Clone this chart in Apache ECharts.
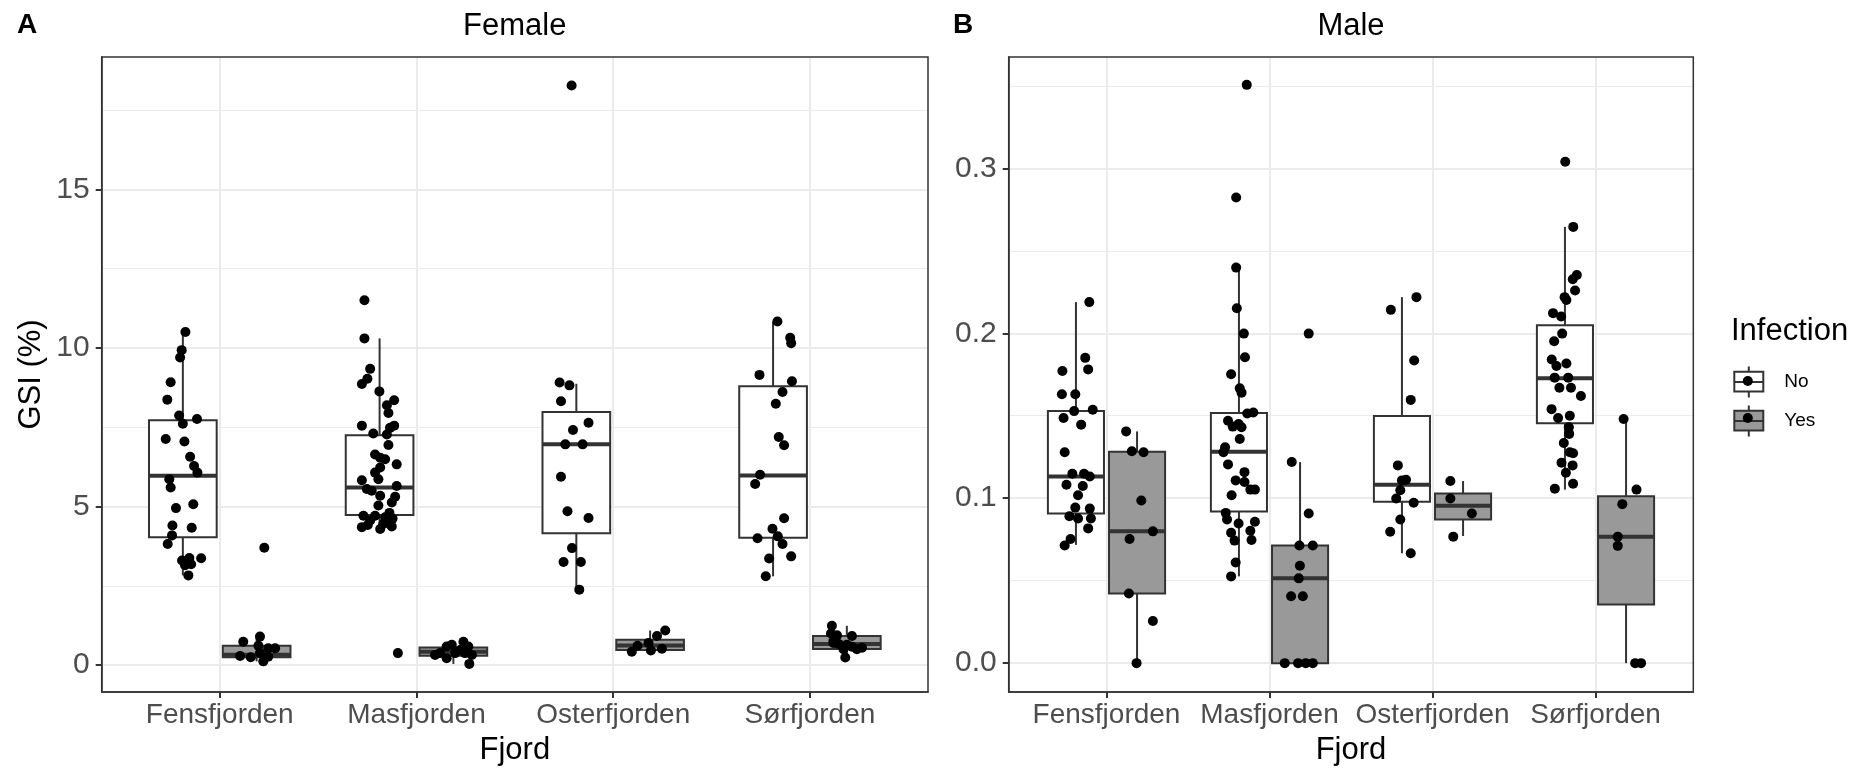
<!DOCTYPE html>
<html>
<head>
<meta charset="utf-8">
<script src="https://cdn.jsdelivr.net/npm/echarts@6/dist/echarts.min.js"></script>
<style>
html,body{margin:0;padding:0;background:#ffffff;}
#chart{width:1856px;height:771px;}
</style>
</head>
<body>
<div id="chart"></div>
<script>
// ---------------- data ----------------
const fjords = ['Fensfjorden', 'Masfjorden', 'Osterfjorden', 'Sørfjorden'];
const infections = ['No', 'Yes'];

const femaleTicks = [0, 5, 10, 15];
const femaleMinorTicks = [2.5, 7.5, 12.5, 17.5];
const maleTicks = [0, 0.1, 0.2, 0.3];
const maleMinorTicks = [0.05, 0.15, 0.25, 0.35];

// box statistics per fjord: [lower whisker, Q1, median, Q3, upper whisker]
const femaleBoxNo  = [[2.83, 4.03, 5.97, 7.72, 10.50], [4.29, 4.73, 5.60, 7.25, 10.30], [2.38, 4.16, 6.96, 7.98, 8.87], [2.80, 4.02, 5.98, 8.79, 10.83]];
const femaleBoxYes = [[0.12, 0.25, 0.33, 0.61, 0.90], [0.04, 0.30, 0.42, 0.56, 0.74], [0.42, 0.48, 0.62, 0.80, 1.09], [0.24, 0.51, 0.67, 0.92, 1.24]];
const maleBoxNo    = [[0.0717, 0.0907, 0.1132, 0.1528, 0.2189], [0.0526, 0.0919, 0.1281, 0.1516, 0.2398], [0.0666, 0.0978, 0.1082, 0.1498, 0.2219], [0.1052, 0.1454, 0.1727, 0.2048, 0.2645]];
const maleBoxYes   = [[0, 0.0422, 0.0799, 0.1281, 0.1405], [0, 0, 0.0514, 0.0713, 0.1219], [0.0771, 0.0871, 0.0954, 0.1028, 0.1104], [0, 0.0355, 0.0767, 0.1012, 0.148]];

// individual GSI values per fjord
const femaleNoGSI = [
  [10.50, 9.93, 9.70, 8.92, 8.37, 7.87, 7.76, 7.61, 7.13, 7.05, 6.57, 6.28, 6.07, 5.86, 5.60, 5.07, 4.95, 4.40, 4.33, 4.09, 3.82, 3.30, 3.38, 3.37, 3.18, 3.15, 2.83],
  [11.50, 10.30, 9.34, 9.03, 8.86, 8.63, 8.35, 8.19, 7.95, 7.55, 7.55, 7.48, 7.30, 7.27, 6.94, 6.64, 6.49, 6.54, 6.33, 6.23, 6.07, 5.86, 5.83, 5.65, 5.55, 5.50, 5.34, 5.31, 5.13, 5.03, 4.71, 4.71, 4.66, 4.50, 4.35, 4.29, 4.37, 4.56, 4.45, 0.38, 4.62, 4.42, 4.80],
  [8.91, 8.82, 8.32, 7.64, 7.41, 6.96, 6.96, 5.94, 4.85, 4.64, 3.69, 3.25, 3.25, 2.38, 18.27],
  [10.83, 10.32, 10.15, 9.15, 8.95, 8.61, 8.24, 7.19, 6.93, 6.00, 5.71, 4.63, 4.30, 4.06, 4.00, 3.82, 3.36, 3.43, 2.80]
];
const femaleYesGSI = [
  [3.70, 0.74, 0.90, 0.61, 0.53, 0.53, 0.29, 0.25, 0.12, 0.27, 0.38],
  [0.32, 0.59, 0.64, 0.74, 0.59, 0.22, 0.38, 0.38, 0.04, 0.48, 0.38, 0.32],
  [1.09, 0.92, 0.70, 0.61, 0.42, 0.46, 0.52],
  [1.24, 1.00, 0.94, 0.92, 0.76, 0.67, 0.64, 0.50, 0.58, 0.55, 0.50, 0.24, 0.70]
];
const maleNoGSI = [
  [0.2189, 0.1851, 0.1781, 0.1771, 0.1630, 0.1630, 0.1528, 0.1536, 0.1486, 0.1446, 0.1279, 0.1082, 0.1148, 0.1148, 0.1132, 0.1074, 0.1018, 0.0943, 0.0937, 0.0891, 0.0877, 0.0877, 0.0817, 0.0753, 0.0713],
  [0.3506, 0.2823, 0.2398, 0.2152, 0.1998, 0.1855, 0.1751, 0.1666, 0.1640, 0.1520, 0.1514, 0.1470, 0.1450, 0.1430, 0.1434, 0.1359, 0.1309, 0.1279, 0.1205, 0.1158, 0.1108, 0.1098, 0.1052, 0.1052, 0.1018, 0.0911, 0.0871, 0.0857, 0.0847, 0.0791, 0.0803, 0.0743, 0.0747, 0.0610, 0.0526],
  [0.2219, 0.2142, 0.1835, 0.1596, 0.1199, 0.1112, 0.1108, 0.1048, 0.0998, 0.0972, 0.0871, 0.0797, 0.0666],
  [0.3040, 0.2645, 0.2353, 0.2327, 0.2259, 0.2219, 0.2202, 0.2122, 0.2102, 0.1998, 0.1952, 0.1841, 0.1817, 0.1801, 0.1731, 0.1731, 0.1670, 0.1670, 0.1620, 0.1540, 0.1486, 0.1500, 0.1430, 0.1390, 0.1335, 0.1279, 0.1273, 0.1215, 0.1199, 0.1154, 0.1058, 0.1088]
];
const maleYesGSI = [
  [0.1405, 0.1285, 0.1279, 0.0986, 0.0799, 0.0753, 0.0422, 0.0255, 0.0000],
  [0.1998, 0.1219, 0.0907, 0.0713, 0.0713, 0.0590, 0.0514, 0.0405, 0.0405, 0, 0, 0, 0],
  [0.1104, 0.0998, 0.0907, 0.0767],
  [0.1480, 0.1052, 0.0964, 0.0767, 0.0711, 0, 0]
];

// horizontal jitter of each point (in category units)
const femaleNoJitter = [
  [0.013, -0.006, -0.014, -0.062, -0.079, -0.019, 0.072, 0.000, -0.087, 0.008, 0.037, 0.057, 0.074, -0.069, -0.062, 0.053, -0.035, -0.053, 0.045, -0.055, -0.077, -0.004, 0.033, 0.093, 0.042, 0.011, 0.028],
  [-0.077, -0.077, -0.048, -0.062, -0.090, -0.001, 0.074, 0.037, 0.045, -0.090, 0.074, 0.053, -0.032, 0.037, 0.045, -0.023, 0.028, 0.003, 0.087, 0.003, -0.023, -0.006, -0.090, 0.087, -0.065, -0.040, 0.003, 0.079, 0.062, -0.006, -0.082, -0.023, 0.028, 0.045, -0.090, 0.003, 0.062, -0.048, 0.019, 0.093, 0.066, -0.060, 0.050],
  [-0.085, -0.035, -0.078, 0.062, -0.017, -0.056, 0.032, -0.078, -0.045, 0.062, -0.022, -0.065, 0.023, 0.015, -0.024],
  [0.022, 0.087, 0.092, -0.069, 0.096, 0.048, 0.014, 0.029, 0.056, -0.066, -0.091, 0.056, -0.003, 0.024, -0.079, 0.048, -0.020, 0.092, -0.037]
];
const femaleYesJitter = [
  [0.039, -0.068, 0.017, 0.009, 0.059, 0.094, -0.084, -0.030, 0.034, 0.059, 0.017],
  [-0.093, -0.034, -0.008, 0.051, 0.076, -0.034, 0.009, 0.059, 0.081, 0.034, -0.068, 0.094],
  [0.077, 0.035, -0.008, -0.064, -0.093, 0.004, 0.060],
  [-0.076, -0.081, -0.050, 0.026, -0.068, -0.042, 0.000, -0.017, 0.026, 0.077, 0.051, -0.008, -0.068]
];
const maleNoJitter = [
  [0.082, 0.057, 0.075, -0.083, -0.086, -0.004, -0.011, 0.103, -0.076, 0.032, -0.069, -0.058, 0.050, -0.022, 0.085, 0.042, 0.013, -0.004, 0.085, -0.040, 0.013, 0.092, 0.075, -0.033, -0.069],
  [0.048, -0.017, -0.017, -0.013, 0.030, 0.037, -0.048, 0.005, 0.016, 0.088, 0.051, -0.067, -0.002, 0.016, -0.038, 0.005, -0.085, -0.095, -0.067, 0.034, -0.020, 0.034, 0.098, 0.070, -0.045, -0.081, -0.073, 0.098, -0.002, -0.048, 0.070, -0.027, 0.077, -0.020, -0.048],
  [0.089, -0.068, 0.075, 0.054, -0.025, 0.025, 0.000, -0.010, -0.035, 0.072, -0.010, -0.072, 0.054],
  [0.002, 0.051, 0.073, 0.048, 0.062, -0.002, 0.009, -0.073, -0.023, -0.017, -0.066, -0.081, 0.009, -0.052, -0.063, 0.020, -0.034, 0.037, 0.098, -0.082, -0.042, 0.030, 0.024, 0.026, -0.007, 0.030, 0.050, -0.021, 0.047, 0.006, -0.062, 0.050]
];
const maleYesJitter = [
  [-0.067, -0.032, 0.040, 0.026, 0.097, -0.046, -0.050, 0.097, -0.003],
  [0.053, -0.051, 0.053, -0.004, 0.078, -0.001, -0.008, -0.055, 0.017, -0.094, -0.012, 0.035, 0.078],
  [-0.078, -0.078, 0.054, -0.060],
  [-0.015, 0.064, -0.023, -0.051, -0.051, 0.056, 0.092]
];

// ---------------- layout / style ----------------
const FONT = '"Liberation Sans", Arial, Helvetica, sans-serif';
const DODGE = 0.1875;
const BOX_W = 0.344;
const EDGE = '#333333';
const GRID_COL = '#EBEBEB';
const AXIS_TXT = '#4D4D4D';
const FILL = { No: '#FFFFFF', Yes: '#999999' };

function boxData(stats, sign) {
  return stats.map((s, i) => [i + 1 + sign * DODGE, s[0], s[1], s[2], s[3], s[4]]);
}
function pointData(values, jitter, sign) {
  const out = [];
  values.forEach((grp, i) => grp.forEach((v, j) => out.push([i + 1 + sign * DODGE + jitter[i][j], v])));
  return out;
}
function renderBox(params, api) {
  const x = api.value(0);
  const lo = api.coord([x, api.value(1)]);
  const q1 = api.coord([x, api.value(2)]);
  const md = api.coord([x, api.value(3)]);
  const q3 = api.coord([x, api.value(4)]);
  const hi = api.coord([x, api.value(5)]);
  const w = api.size([BOX_W, 0], [x, 0])[0];
  const fill = api.visual('color');
  return {
    type: 'group',
    children: [
      { type: 'line', shape: { x1: lo[0], y1: lo[1], x2: q1[0], y2: q1[1] }, style: { stroke: EDGE, lineWidth: 2 } },
      { type: 'line', shape: { x1: q3[0], y1: q3[1], x2: hi[0], y2: hi[1] }, style: { stroke: EDGE, lineWidth: 2 } },
      { type: 'rect', shape: { x: q3[0] - w / 2, y: q3[1], width: w, height: q1[1] - q3[1] }, style: { fill: fill, stroke: EDGE, lineWidth: 2 } },
      { type: 'line', shape: { x1: md[0] - w / 2, y1: md[1], x2: md[0] + w / 2, y2: md[1] }, style: { stroke: EDGE, lineWidth: 4 } }
    ]
  };
}

function xAxisFor(gridIndex) {
  return {
    type: 'value', gridIndex: gridIndex, min: 0.4, max: 4.6, position: 'bottom',
    name: 'Fjord', nameLocation: 'middle', nameGap: 43,
    nameTextStyle: { fontSize: 31, color: '#000000', fontFamily: FONT },
    axisLine: { show: true, onZero: false, lineStyle: { color: EDGE, width: 1.5 } },
    axisTick: { show: true, inside: false, length: 6, customValues: [1, 2, 3, 4], lineStyle: { color: EDGE, width: 2 } },
    axisLabel: { show: true, customValues: [1, 2, 3, 4], margin: 9, fontSize: 28, color: AXIS_TXT, fontFamily: FONT,
      formatter: v => fjords[Math.round(v) - 1] || '' },
    splitLine: { show: true, lineStyle: { color: GRID_COL, width: 2 } }
  };
}
function yMajor(gridIndex, min, max, ticks, fmt, withName) {
  return {
    type: 'value', gridIndex: gridIndex, min: min, max: max, position: 'left',
    name: withName ? 'GSI (%)' : '', nameLocation: 'middle', nameGap: 55,
    nameTextStyle: { fontSize: 31, color: '#000000', fontFamily: FONT },
    axisLine: { show: true, onZero: false, lineStyle: { color: EDGE, width: 1.5 } },
    axisTick: { show: true, inside: false, length: 6, customValues: ticks, lineStyle: { color: EDGE, width: 2 } },
    axisLabel: { show: true, customValues: ticks, margin: 12, fontSize: 30, color: AXIS_TXT, fontFamily: FONT, formatter: fmt },
    splitLine: { show: true, lineStyle: { color: GRID_COL, width: 2 } }
  };
}
function yMinor(gridIndex, min, max, ticks) {
  return {
    type: 'value', gridIndex: gridIndex, min: min, max: max, position: 'left',
    axisLine: { show: false, onZero: false },
    axisTick: { show: false, customValues: ticks },
    axisLabel: { show: false, customValues: ticks },
    splitLine: { show: true, lineStyle: { color: GRID_COL, width: 1 } }
  };
}

const BOX_ICON = 'path://M14.5 0L14.5 5.3M0 5.3L29 5.3L29 25L0 25ZM14.5 25L14.5 31M0 15.5L29 15.5';

const gridStyle = { show: true, z: 10, borderColor: EDGE, borderWidth: 1.5, backgroundColor: 'transparent', containLabel: false };

const pointStyle = { color: '#000000', opacity: 1, borderWidth: 0 };

const option = {
  animation: false,
  backgroundColor: '#FFFFFF',
  textStyle: { fontFamily: FONT },
  title: [
    { text: 'A', left: 17, top: 25, padding: 0, textVerticalAlign: 'middle', textStyle: { fontSize: 28, fontWeight: 'bold', color: '#000', fontFamily: FONT } },
    { text: 'B', left: 953, top: 25, padding: 0, textVerticalAlign: 'middle', textStyle: { fontSize: 28, fontWeight: 'bold', color: '#000', fontFamily: FONT } },
    { text: 'Female', left: 514.8, top: 26, padding: 0, textAlign: 'center', textVerticalAlign: 'middle', textStyle: { fontSize: 31, fontWeight: 'normal', color: '#000', fontFamily: FONT } },
    { text: 'Male', left: 1351, top: 26, padding: 0, textAlign: 'center', textVerticalAlign: 'middle', textStyle: { fontSize: 31, fontWeight: 'normal', color: '#000', fontFamily: FONT } },
    { text: 'Infection', left: 1731, top: 331.5, padding: 0, textVerticalAlign: 'middle', textStyle: { fontSize: 31, fontWeight: 'normal', color: '#000', fontFamily: FONT } }
  ],
  legend: [
    {
      orient: 'vertical', left: 1733.3, top: 365.5, padding: 0, z: 4,
      itemWidth: 29, itemHeight: 31, itemGap: 6, icon: BOX_ICON, selectedMode: false,
      textStyle: { fontSize: 19, color: '#000', fontFamily: FONT, padding: [0, 0, 0, 16] },
      data: infections.map(n => ({ name: n, itemStyle: { color: FILL[n], borderColor: EDGE, borderWidth: 2 } }))
    },
    {
      orient: 'vertical', left: 1733.3, top: 376, padding: 0, z: 5,
      itemWidth: 29, itemHeight: 10, itemGap: 27, icon: 'circle', selectedMode: false,
      formatter: () => '',
      data: infections.map(n => ({ name: n + ' (points)', itemStyle: { color: '#000000', borderWidth: 0, opacity: 1 } }))
    }
  ],
  grid: [
    Object.assign({ left: 101.7, top: 57, width: 826.3, height: 638.7 }, gridStyle),
    Object.assign({ left: 1008.7, top: 57, width: 684.6, height: 638.7 }, gridStyle)
  ],
  xAxis: [xAxisFor(0), xAxisFor(1)],
  yAxis: [
    yMajor(0, -0.846, 19.17, femaleTicks, v => String(v), true),
    yMinor(0, -0.846, 19.17, femaleMinorTicks),
    yMajor(1, -0.0175, 0.3675, maleTicks, v => v.toFixed(1), false),
    yMinor(1, -0.0175, 0.3675, maleMinorTicks)
  ],
  series: [
    { type: 'custom', name: 'No', xAxisIndex: 0, yAxisIndex: 0, renderItem: renderBox, itemStyle: { color: FILL.No }, encode: { x: 0, y: [1, 2, 3, 4, 5] }, data: boxData(femaleBoxNo, -1), z: 2 },
    { type: 'custom', name: 'Yes', xAxisIndex: 0, yAxisIndex: 0, renderItem: renderBox, itemStyle: { color: FILL.Yes }, encode: { x: 0, y: [1, 2, 3, 4, 5] }, data: boxData(femaleBoxYes, 1), z: 2 },
    { type: 'custom', name: 'No', xAxisIndex: 1, yAxisIndex: 2, renderItem: renderBox, itemStyle: { color: FILL.No }, encode: { x: 0, y: [1, 2, 3, 4, 5] }, data: boxData(maleBoxNo, -1), z: 2 },
    { type: 'custom', name: 'Yes', xAxisIndex: 1, yAxisIndex: 2, renderItem: renderBox, itemStyle: { color: FILL.Yes }, encode: { x: 0, y: [1, 2, 3, 4, 5] }, data: boxData(maleBoxYes, 1), z: 2 },
    { type: 'scatter', name: 'No (points)', xAxisIndex: 0, yAxisIndex: 0, symbol: 'circle', symbolSize: 10, itemStyle: pointStyle, data: pointData(femaleNoGSI, femaleNoJitter, -1), z: 3 },
    { type: 'scatter', name: 'Yes (points)', xAxisIndex: 0, yAxisIndex: 0, symbol: 'circle', symbolSize: 10, itemStyle: pointStyle, data: pointData(femaleYesGSI, femaleYesJitter, 1), z: 3 },
    { type: 'scatter', name: 'No (points)', xAxisIndex: 1, yAxisIndex: 2, symbol: 'circle', symbolSize: 10, itemStyle: pointStyle, data: pointData(maleNoGSI, maleNoJitter, -1), z: 3 },
    { type: 'scatter', name: 'Yes (points)', xAxisIndex: 1, yAxisIndex: 2, symbol: 'circle', symbolSize: 10, itemStyle: pointStyle, data: pointData(maleYesGSI, maleYesJitter, 1), z: 3 }
  ]
};

const chart = echarts.init(document.getElementById('chart'), null, { renderer: 'canvas', width: 1856, height: 771 });
chart.setOption(option);
</script>
</body>
</html>
